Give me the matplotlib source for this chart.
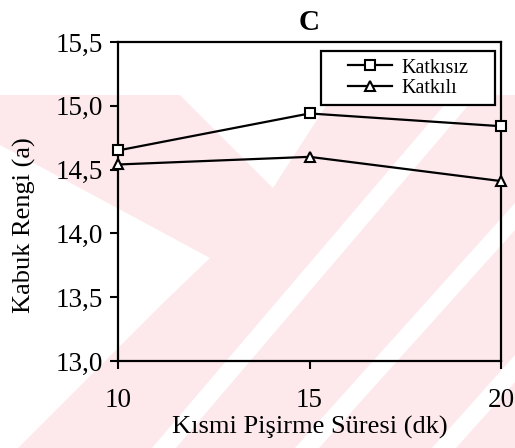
import matplotlib
matplotlib.use("Agg")
import matplotlib.pyplot as plt
from matplotlib.patches import Polygon, Rectangle
from matplotlib.ticker import FuncFormatter

# veri
sure = [10, 15, 20]
katkisiz = [14.65, 14.94, 14.84]
katkili = [14.54, 14.60, 14.41]

plt.rcParams['font.family'] = ['Liberation Serif', 'DejaVu Serif']

W, H = 515, 448
fig = plt.figure(figsize=(W / 100, H / 100), dpi=100)

# arka plandaki filigran (pembe zemin + beyaz şeritler), piksel koordinatlarında
def px(pts):
    return [(x / W, 1 - y / H) for x, y in pts]

pink = '#fde9ec'
fig.patches.append(Rectangle((0, 0), 1, 1 - 95 / H, transform=fig.transFigure,
                             facecolor=pink, edgecolor='none', zorder=-10))
white_bands = [
    [(0, 145), (210, 258), (163, 303), (0, 466)],      # ">" şekli
    [(180, 95), (333, 95), (273, 188)],                # üstteki V
    [(152, 448), (176, 448), (477, 95), (453, 95)],    # "/" şeritler
    [(295, 448), (319, 448), (515, 230), (515, 203)],
    [(432, 448), (456, 448), (515, 382), (515, 355)],
]
for band in white_bands:
    fig.patches.append(Polygon(px(band), closed=True, transform=fig.transFigure,
                               facecolor='white', edgecolor='none', zorder=-9))

ax = fig.add_axes([118 / W, 1 - 361 / H, (501 - 118) / W, (361 - 42) / H])
ax.patch.set_alpha(0)

ax.plot(sure, katkisiz, color='black', lw=1.6, marker='s', ms=7,
        mfc='white', mec='black', mew=1.5, label='Katkısız', clip_on=False, zorder=5)
ax.plot(sure, katkili, color='black', lw=1.6, marker='^', ms=7,
        mfc='white', mec='black', mew=1.5, label='Katkılı', clip_on=False, zorder=5)

ax.set_xlim(10, 20)
ax.set_ylim(13.0, 15.5)
ax.set_xticks(sure)
ax.set_yticks([13.0, 13.5, 14.0, 14.5, 15.0, 15.5])
ax.yaxis.set_major_formatter(FuncFormatter(lambda v, p: f'{v:.1f}'.replace('.', ',')))
ax.tick_params(axis='both', direction='out', length=6, width=1.5, labelsize=19.5,
               color='black')
ax.tick_params(axis='x', pad=13.5)
ax.tick_params(axis='y', pad=5)
for s in ax.spines.values():
    s.set_linewidth(1.6)

ax.set_xlabel('Kısmi Pişirme Süresi (dk)', fontsize=19, labelpad=2)
ax.set_ylabel('Kabuk Rengi (a)', fontsize=19)
ax.yaxis.set_label_coords(-0.214, 0.426)
ax.set_title('C', fontsize=21, fontweight='bold', pad=9)

# lejant: çerçeve ayrı çiziliyor, içerik ortada
frame = Rectangle((0.530, 0.8025), 0.984 - 0.530, 0.972 - 0.8025,
                  transform=ax.transAxes, facecolor='white', edgecolor='black',
                  lw=1.6, zorder=6)
ax.add_patch(frame)
leg = ax.legend(loc='center', bbox_to_anchor=(0.757, 0.887), fontsize=14.5,
                handlelength=2.2, handletextpad=0.45, borderpad=0.2,
                labelspacing=0.05, frameon=False, borderaxespad=0)
leg.set_zorder(7)

fig.savefig('out.png', dpi=100)
